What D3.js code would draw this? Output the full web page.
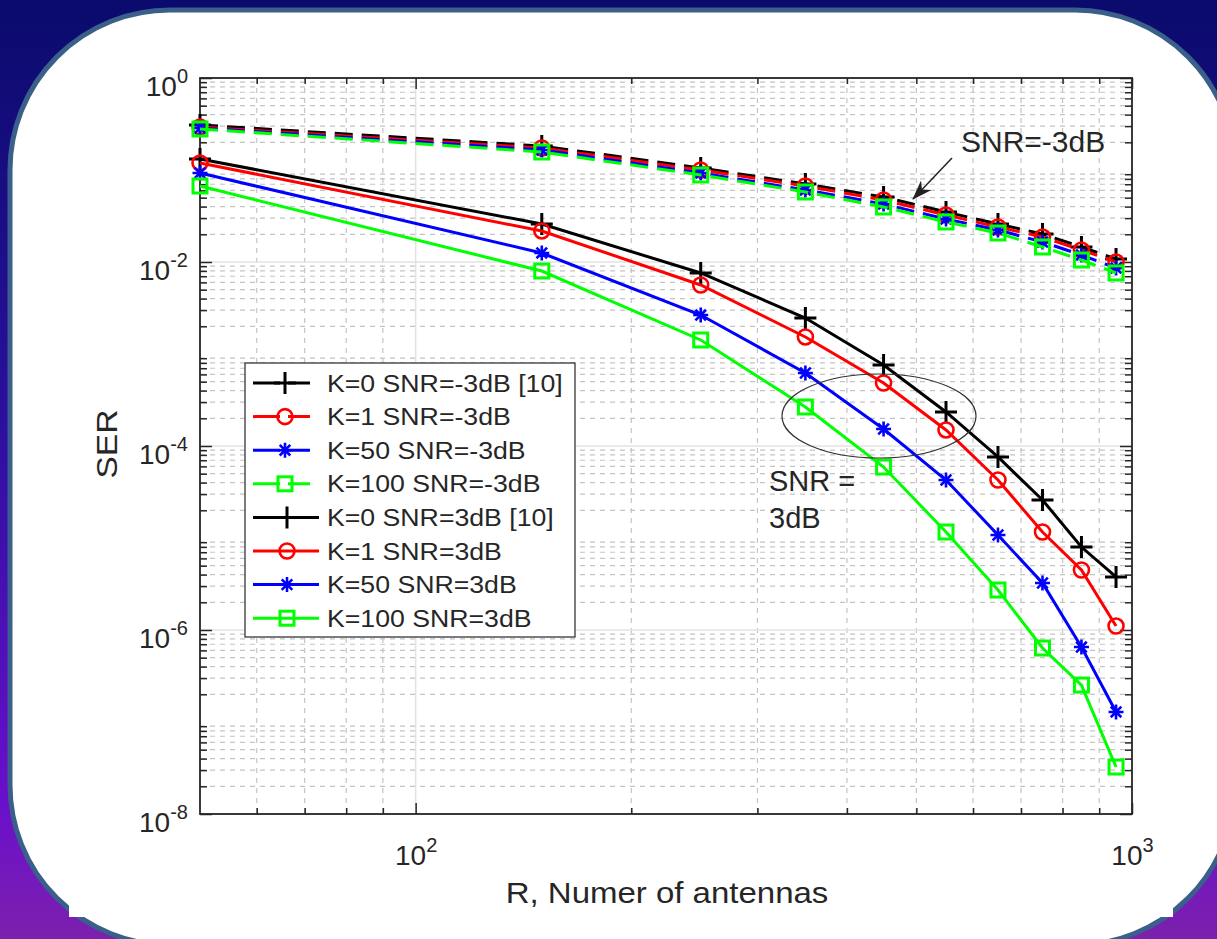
<!DOCTYPE html>
<html><head><meta charset="utf-8">
<script src="https://cdn.jsdelivr.net/npm/d3@7"></script>
<style>
html,body{margin:0;padding:0;background:#fff;}
svg{display:block;}
text{font-family:"Liberation Sans",Arial,Helvetica,sans-serif;fill:#262626;}
</style></head>
<body>
<svg id="chart" width="1217" height="939"></svg>
<script>
// ---------- data ----------
const antennas = [50,150,250,350,450,550,650,750,850,950];
const serK0m3  = [0.3083,0.1823,0.1051,0.07045,0.05087,0.03496,0.02588,0.02015,0.01456,0.01078];
const serK1m3  = [0.2934,0.1734,0.1000,0.06699,0.04719,0.03243,0.02401,0.01869,0.01350,0.01000];
const serK50m3 = [0.2861,0.1650,0.0928,0.06062,0.04271,0.02934,0.02228,0.01650,0.01192,0.00860];
const serK100m3= [0.2791,0.1569,0.08825,0.05767,0.03961,0.02722,0.02066,0.01456,0.01051,0.00760];
const serK0p3  = [0.1317,0.02588,0.007597,0.002462,7.597e-4,2.343e-4,7.597e-5,2.588e-5,7.98e-6,3.77e-6];
const serK1p3  = [0.1192,0.02173,0.005623,0.001531,4.84e-4,1.493e-4,4.27e-5,1.162e-5,4.49e-6,1.105e-6];
const serK50p3 = [0.0928,0.01253,0.002653,6.215e-4,1.53e-4,4.27e-5,1.078e-5,3.243e-6,6.53e-7,1.285e-7];
const serK100p3= [0.06699,0.00798,0.00142,2.655e-4,5.91e-5,1.162e-5,2.72e-6,6.37e-7,2.52e-7,3.24e-8];
const legendLabels = ["K=0 SNR=-3dB [10]","K=1 SNR=-3dB","K=50 SNR=-3dB","K=100 SNR=-3dB",
                      "K=0 SNR=3dB [10]","K=1 SNR=3dB","K=50 SNR=3dB","K=100 SNR=3dB"];
const xMajorTicks = [100,1000];
const xTickExp = ["2","3"];
const yMajorTicks = [1,1e-2,1e-4,1e-6,1e-8];
const yTickExp = ["0","-2","-4","-6","-8"];
const xLabel = "R, Numer of antennas";
const yLabel = "SER";

// ---------- layout ----------
const svg = d3.select("#chart");
const W=1217,H=939;
const defs = svg.append("defs");
const grad = defs.append("linearGradient").attr("id","bg").attr("x1",0).attr("y1",0).attr("x2",0).attr("y2",1);
[[0,"#0a0b6c"],[0.45,"#2c0f9e"],[0.85,"#690fcc"],[1,"#7c20ae"]].forEach(s=>grad.append("stop").attr("offset",s[0]).attr("stop-color",s[1]));
svg.append("rect").attr("width",W).attr("height",H).attr("fill","url(#bg)");
svg.append("rect").attr("x",10).attr("y",10).attr("width",1225).attr("height",935).attr("rx",160).attr("ry",160)
   .attr("fill","#fff").attr("stroke","#3b5f8b").attr("stroke-width",5);
svg.append("rect").attr("x",69).attr("y",60).attr("width",1104).attr("height",857).attr("fill","#fff");

const L=200,R=1132,T=78,B=814;
const x = d3.scaleLog().domain([50,1000]).range([L,R]);
const y = d3.scaleLog().domain([1e-8,1]).range([B,T]);

const xMinor = [60,70,80,90,200,300,400,500,600,700,800,900];
const yMinor = [];
for(let k=-8;k<0;k++) for(let m=2;m<=9;m++) yMinor.push(m*Math.pow(10,k));

// grid
const g = svg.append("g");
g.selectAll(".gvm").data(xMinor).join("line").attr("x1",d=>x(d)).attr("x2",d=>x(d)).attr("y1",T).attr("y2",B)
  .attr("stroke","#c4c4c4").attr("stroke-width",1.2).attr("stroke-dasharray","5,5");
g.selectAll(".ghm").data(yMinor).join("line").attr("y1",d=>y(d)).attr("y2",d=>y(d)).attr("x1",L).attr("x2",R)
  .attr("stroke","#c4c4c4").attr("stroke-width",1.2).attr("stroke-dasharray","5,5");
g.selectAll(".gvM").data(xMajorTicks).join("line").attr("x1",d=>x(d)).attr("x2",d=>x(d)).attr("y1",T).attr("y2",B)
  .attr("stroke","#e3e3e3").attr("stroke-width",1.5);
g.selectAll(".ghM").data(yMajorTicks).join("line").attr("y1",d=>y(d)).attr("y2",d=>y(d)).attr("x1",L).attr("x2",R)
  .attr("stroke","#e3e3e3").attr("stroke-width",1.5);

// axes (ticks inside)
function styleAxis(sel){ sel.select(".domain").remove(); sel.selectAll("line").attr("stroke","#262626").attr("stroke-width",1.5); }
svg.append("g").attr("transform",`translate(0,${B})`).call(d3.axisBottom(x).tickValues(xMinor).tickSize(-6).tickFormat("")).call(styleAxis);
svg.append("g").attr("transform",`translate(0,${T})`).call(d3.axisTop(x).tickValues(xMinor).tickSize(-6).tickFormat("")).call(styleAxis);
svg.append("g").attr("transform",`translate(${L},0)`).call(d3.axisLeft(y).tickValues(yMinor).tickSize(-7).tickFormat("")).call(styleAxis);
svg.append("g").attr("transform",`translate(${R},0)`).call(d3.axisRight(y).tickValues(yMinor).tickSize(-7).tickFormat("")).call(styleAxis);
svg.append("g").attr("transform",`translate(0,${T})`).call(d3.axisTop(x).tickValues(xMajorTicks).tickSize(-11).tickFormat("")).call(styleAxis);
svg.append("g").attr("transform",`translate(${R},0)`).call(d3.axisRight(y).tickValues(yMajorTicks).tickSize(-12).tickFormat("")).call(styleAxis);

const xAx = svg.append("g").attr("transform",`translate(0,${B})`)
  .call(d3.axisBottom(x).tickValues(xMajorTicks).tickSize(-11).tickPadding(38).tickFormat(()=>"")).call(styleAxis);
xAx.selectAll(".tick text").each(function(d,i){
  const t=d3.select(this).attr("font-size",28).attr("font-family",null).attr("fill","#262626").attr("dy",null).attr("y",51);
  t.append("tspan").text("10");
  t.append("tspan").attr("dy",-13).attr("font-size",20).text(xTickExp[i]);
});
const yAx = svg.append("g").attr("transform",`translate(${L},0)`)
  .call(d3.axisLeft(y).tickValues(yMajorTicks).tickSize(-12).tickPadding(12).tickFormat(()=>"")).call(styleAxis);
yAx.selectAll(".tick text").each(function(d,i){
  const t=d3.select(this).attr("font-size",28).attr("font-family",null).attr("fill","#262626").attr("dy",null).attr("y",17);
  t.append("tspan").text("10");
  t.append("tspan").attr("dy",-13).attr("font-size",20).text(yTickExp[i]);
});
svg.append("rect").attr("x",L).attr("y",T).attr("width",R-L).attr("height",B-T)
  .attr("fill","none").attr("stroke","#262626").attr("stroke-width",1.8);

// axis labels
svg.append("text").attr("transform",`translate(${(L+R)/2+1},903) scale(1.1,1)`).attr("text-anchor","middle").attr("font-size",30).text(xLabel);
svg.append("text").attr("transform",`translate(117,${(T+B)/2-2}) rotate(-90) scale(1.12,1)`).attr("text-anchor","middle").attr("font-size",30).text(yLabel);

// ---------- series ----------
const series = [
  {v:serK0m3,  c:"#000000", m:"plus",   dash:true},
  {v:serK1m3,  c:"#ff0000", m:"circle", dash:true},
  {v:serK50m3, c:"#0000ff", m:"star",   dash:true},
  {v:serK100m3,c:"#00ff00", m:"square", dash:true},
  {v:serK0p3,  c:"#000000", m:"plus",   dash:false},
  {v:serK1p3,  c:"#ff0000", m:"circle", dash:false},
  {v:serK50p3, c:"#0000ff", m:"star",   dash:false},
  {v:serK100p3,c:"#00ff00", m:"square", dash:false}
];
function drawMarker(sel, type, color, cx, cy){
  const gg = sel.append("g").attr("transform",`translate(${cx},${cy})`).attr("stroke",color).attr("fill","none");
  if(type==="plus"){
    gg.append("path").attr("d","M-11,0H11M0,-11V11").attr("stroke-width",3);
  } else if(type==="circle"){
    gg.append("circle").attr("r",7.5).attr("stroke-width",2.6);
  } else if(type==="star"){
    const r=7.5, q=r*0.7071;
    gg.append("path").attr("d",`M${-r},0H${r}M0,${-r}V${r}M${-q},${-q}L${q},${q}M${-q},${q}L${q},${-q}`).attr("stroke-width",2.6);
  } else if(type==="square"){
    gg.append("rect").attr("x",-7).attr("y",-7).attr("width",14).attr("height",14).attr("stroke-width",3);
  }
}
const line = d3.line().x(d=>x(d[0])).y(d=>y(d[1]));
const plot = svg.append("g");
series.forEach(s=>{
  const pts = antennas.map((a,i)=>[a,s.v[i]]);
  plot.append("path").datum(pts).attr("d",line).attr("fill","none").attr("stroke",s.c)
    .attr("stroke-width",3).attr("stroke-dasharray",s.dash?"18,9":null);
  pts.forEach(p=>drawMarker(plot,s.m,s.c,x(p[0]),y(p[1])));
});

// ---------- annotations ----------
svg.append("ellipse").attr("cx",879).attr("cy",416).attr("rx",97).attr("ry",42)
  .attr("fill","none").attr("stroke","#333").attr("stroke-width",1.2);
svg.append("text").attr("x",769).attr("y",491).attr("font-size",29).text("SNR =");
svg.append("text").attr("x",769).attr("y",528).attr("font-size",29).text("3dB");
svg.append("text").attr("x",961).attr("y",152).attr("font-size",30).text("SNR=-3dB");
defs.append("marker").attr("id","arr").attr("viewBox","0 0 20 14").attr("refX",19).attr("refY",7)
  .attr("markerWidth",20).attr("markerHeight",14).attr("markerUnits","userSpaceOnUse").attr("orient","auto")
  .append("path").attr("d","M0,0L20,7L0,14L6,7Z").attr("fill","#222");
svg.append("line").attr("x1",952).attr("y1",158).attr("x2",913).attr("y2",199)
  .attr("stroke","#222").attr("stroke-width",1.5).attr("marker-end","url(#arr)");

// ---------- legend ----------
const lg = svg.append("g");
lg.append("rect").attr("x",245).attr("y",363).attr("width",330).attr("height",274)
  .attr("fill","#fff").attr("stroke","#262626").attr("stroke-width",1.2);
series.forEach((s,i)=>{
  const yy = 383 + i*33.6;
  const x2 = s.dash?310:319;
  const mx = s.dash?285:287;
  lg.append("line").attr("x1",253).attr("x2",x2).attr("y1",yy).attr("y2",yy).attr("stroke",s.c).attr("stroke-width",3)
    .attr("stroke-dasharray",s.dash?"27,8":null);
  drawMarker(lg,s.m,s.c,mx,yy);
  lg.append("text").attr("transform",`translate(327,${yy+8.5}) scale(1.16,1)`).attr("font-size",23).text(legendLabels[i]);
});
</script>
</body></html>
